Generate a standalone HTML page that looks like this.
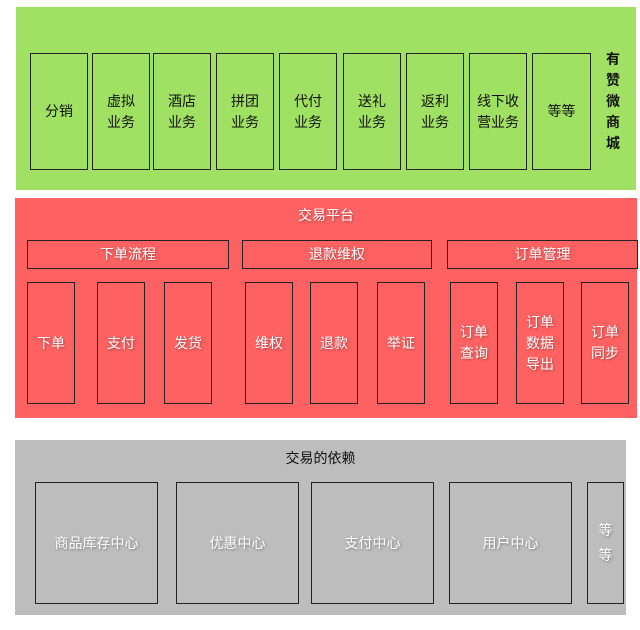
<!DOCTYPE html><html><head><meta charset="utf-8"><style>
body{margin:0;width:640px;height:630px;background:#fff;position:relative;font-family:"Liberation Sans","Noto Sans CJK SC",sans-serif;overflow:hidden}
div{position:absolute;box-sizing:border-box}
.b{border:1.5px solid #222;display:flex;align-items:center;justify-content:center;text-align:center;font-size:14px;line-height:21px}
.g{background:#a0e063;color:#111}
.r{background:#fe6161;color:#fff;text-shadow:1px 1px 2px rgba(0,0,0,.35)}
.y{background:#bdbdbd;color:#fff;text-shadow:1px 1px 2px rgba(0,0,0,.35)}
</style></head><body>
<div style="left:16px;top:7px;width:620px;height:183px;background:#a0e063"></div>
<div class="b g" style="left:30px;top:53px;width:58px;height:117px">分销</div>
<div class="b g" style="left:92px;top:53px;width:58px;height:117px">虚拟<br>业务</div>
<div class="b g" style="left:153px;top:53px;width:58px;height:117px">酒店<br>业务</div>
<div class="b g" style="left:216px;top:53px;width:58px;height:117px">拼团<br>业务</div>
<div class="b g" style="left:279px;top:53px;width:58px;height:117px">代付<br>业务</div>
<div class="b g" style="left:343px;top:53px;width:58px;height:117px">送礼<br>业务</div>
<div class="b g" style="left:406px;top:53px;width:58px;height:117px">返利<br>业务</div>
<div class="b g" style="left:469px;top:53px;width:58px;height:117px">线下收<br>营业务</div>
<div class="b g" style="left:532px;top:53px;width:59px;height:117px">等等</div>
<div style="left:600px;top:49px;width:26px;font-size:14px;line-height:21px;text-align:center;color:#111;font-weight:bold">有<br>赞<br>微<br>商<br>城</div>

<div style="left:15px;top:198px;width:622px;height:220px;background:#fe6161"></div>
<div style="left:15px;top:205px;width:622px;text-align:center;color:#fff;font-size:14px;text-shadow:1px 1px 2px rgba(0,0,0,.35)">交易平台</div>
<div class="b r" style="left:27px;top:240px;width:202px;height:29px">下单流程</div>
<div class="b r" style="left:242px;top:240px;width:190px;height:29px">退款维权</div>
<div class="b r" style="left:447px;top:240px;width:191px;height:29px">订单管理</div>
<div class="b r" style="left:27px;top:282px;width:48px;height:122px">下单</div>
<div class="b r" style="left:97px;top:282px;width:48px;height:122px">支付</div>
<div class="b r" style="left:164px;top:282px;width:48px;height:122px">发货</div>
<div class="b r" style="left:245px;top:282px;width:48px;height:122px">维权</div>
<div class="b r" style="left:310px;top:282px;width:48px;height:122px">退款</div>
<div class="b r" style="left:377px;top:282px;width:48px;height:122px">举证</div>
<div class="b r" style="left:450px;top:282px;width:48px;height:122px">订单<br>查询</div>
<div class="b r" style="left:516px;top:282px;width:48px;height:122px">订单<br>数据<br>导出</div>
<div class="b r" style="left:581px;top:282px;width:48px;height:122px">订单<br>同步</div>

<div style="left:15px;top:440px;width:611px;height:175px;background:#bdbdbd"></div>
<div style="left:15px;top:448px;width:611px;text-align:center;color:#111;font-size:14px">交易的依赖</div>
<div class="b y" style="left:35px;top:482px;width:123px;height:122px">商品库存中心</div>
<div class="b y" style="left:176px;top:482px;width:123px;height:122px">优惠中心</div>
<div class="b y" style="left:311px;top:482px;width:123px;height:122px">支付中心</div>
<div class="b y" style="left:449px;top:482px;width:123px;height:122px">用户中心</div>
<div class="b y" style="left:587px;top:482px;width:37px;height:122px;line-height:25px">等<br>等</div>
</body></html>
